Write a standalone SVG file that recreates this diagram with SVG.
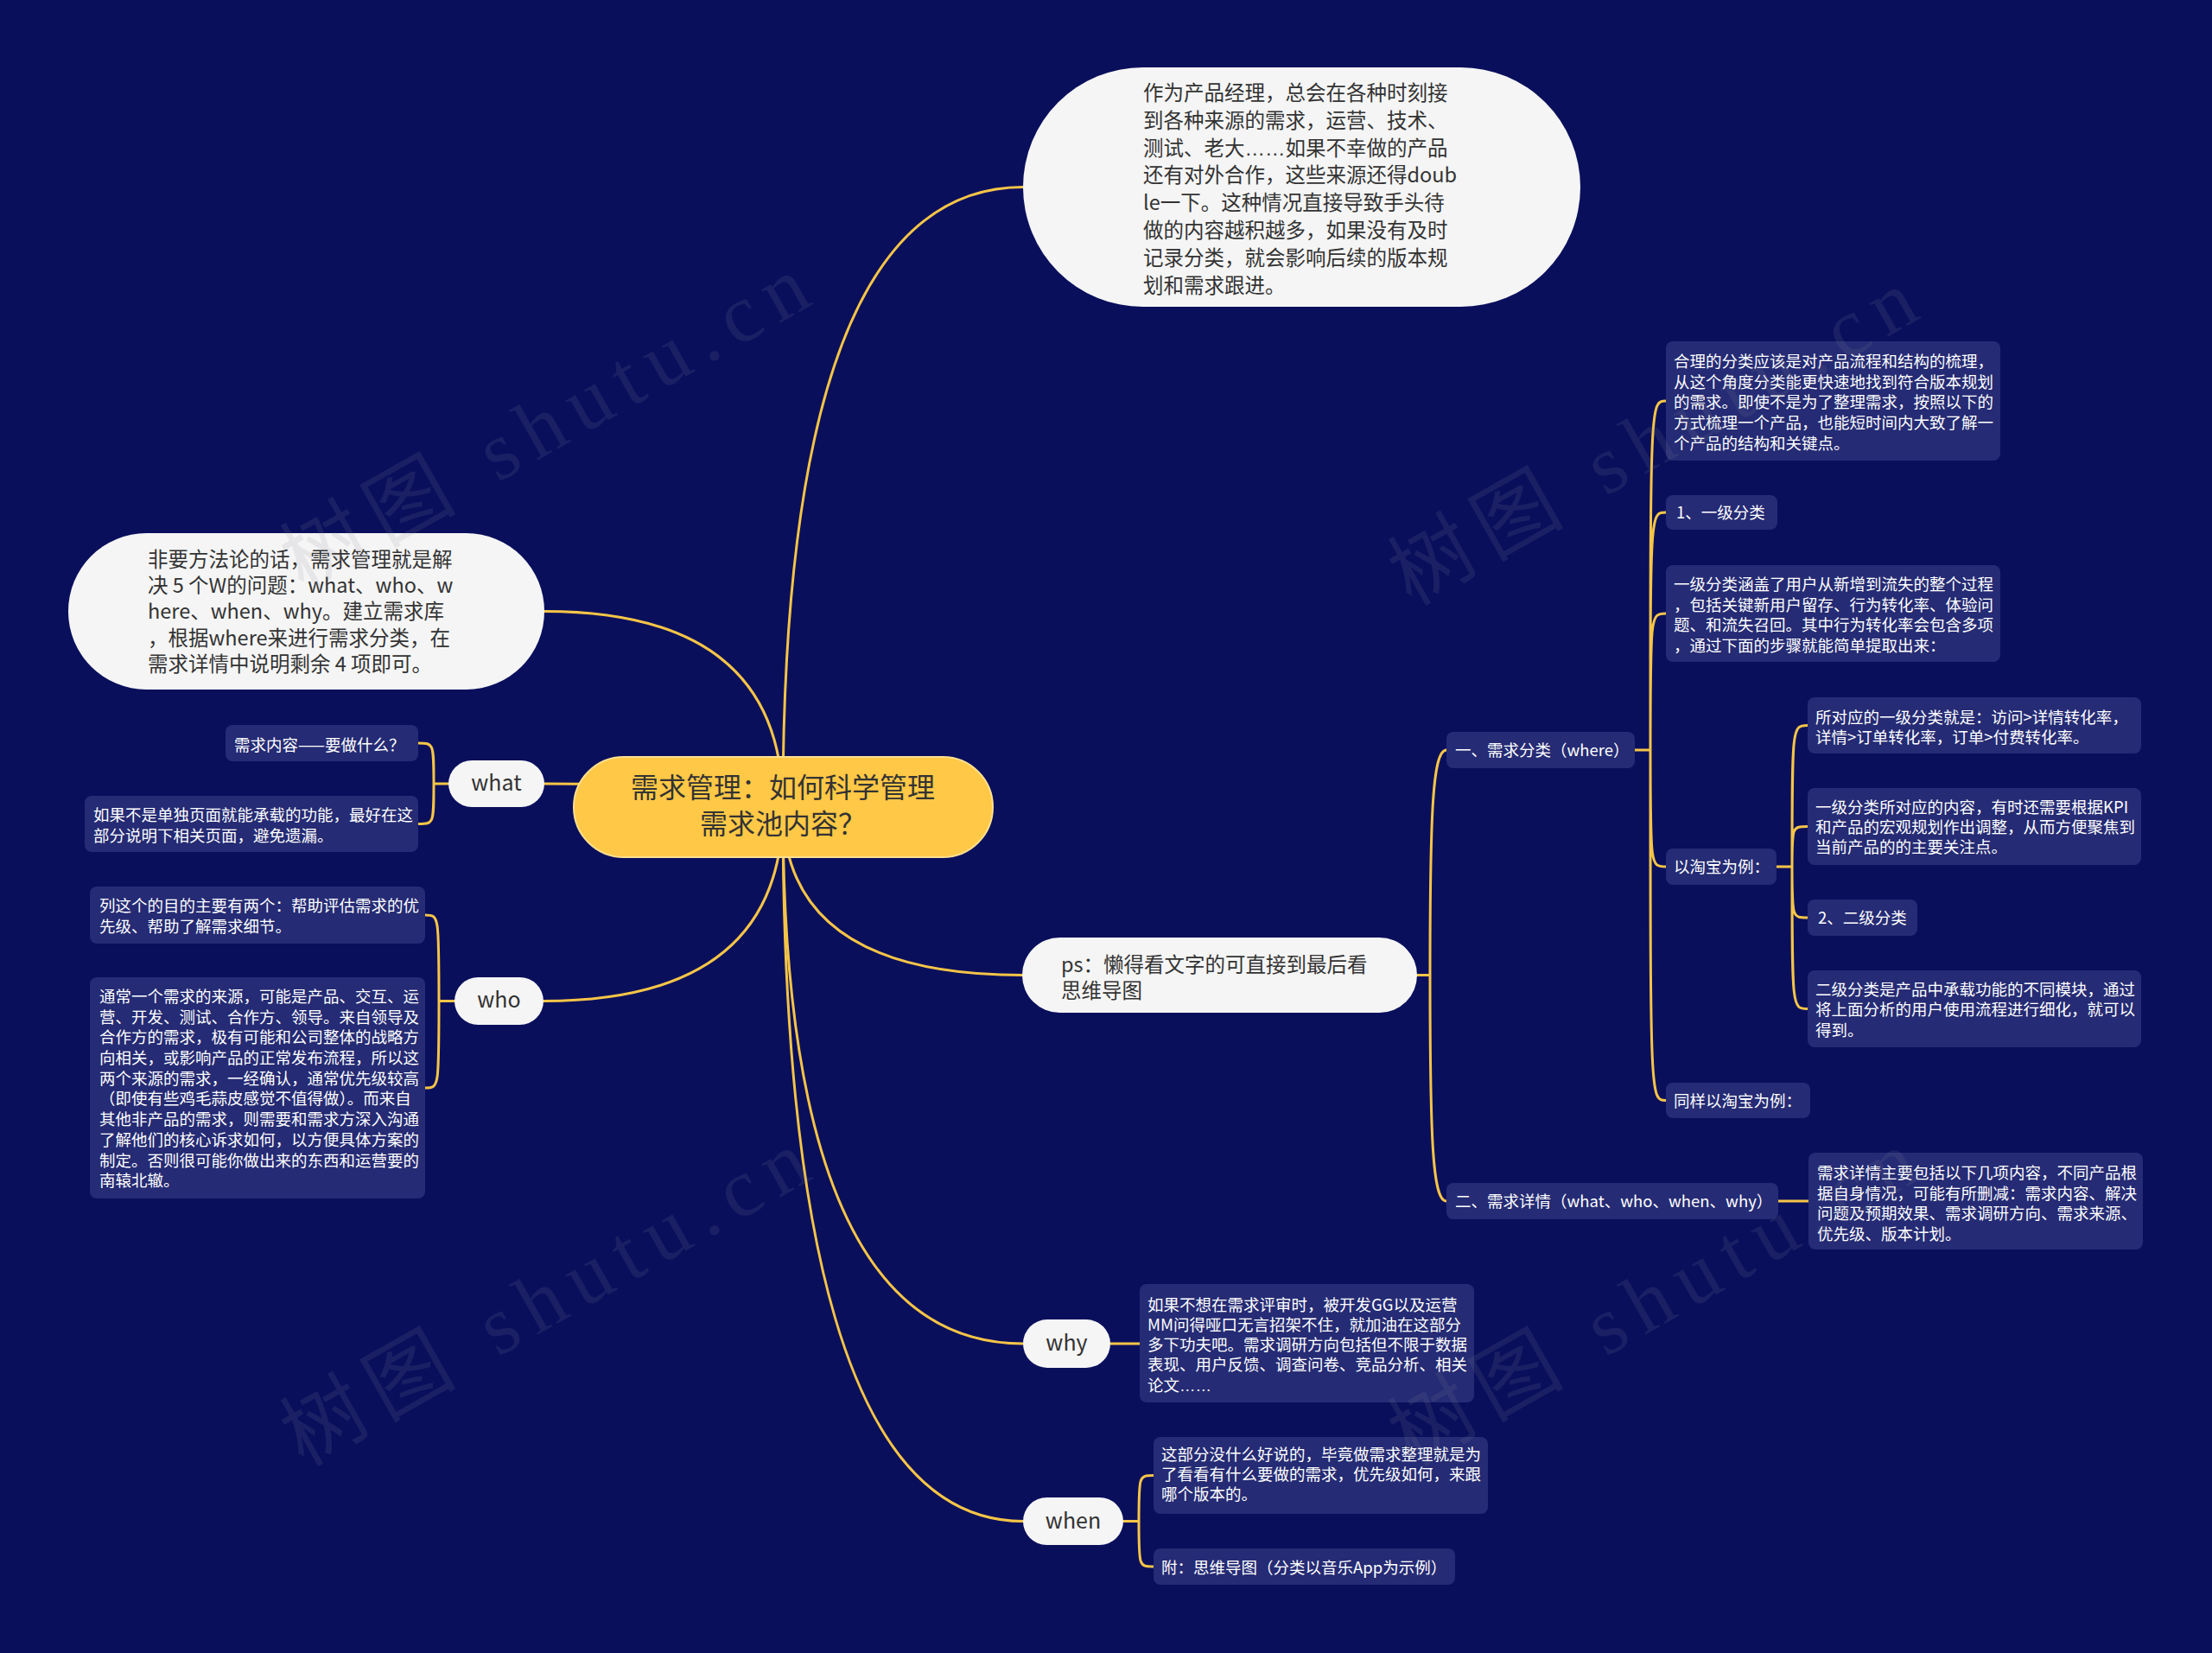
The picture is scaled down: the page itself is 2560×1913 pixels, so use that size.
<svg xmlns="http://www.w3.org/2000/svg" width="2560" height="1913" viewBox="0 0 2560 1913">
<style>
.bg{fill:#0a0f5c}
.conn{fill:none;stroke:#f6c547;stroke-width:3;stroke-linecap:round}
.root{fill:#ffc846;stroke:#ffe08f;stroke-width:2}
.rt{font-family:"Noto Sans CJK SC","Noto Sans",sans-serif;font-size:32px;fill:#333333;text-anchor:middle}
.pill{fill:#f5f5f5}
.pt{font-family:"Noto Sans CJK SC","Noto Sans",sans-serif;font-size:23.5px;fill:#333333}
.wt{font-family:"Noto Sans CJK SC","Noto Sans",sans-serif;font-size:25px;fill:#333333;text-anchor:middle}
.box{fill:#252b74}
.bt{font-family:"Noto Sans CJK SC","Noto Sans",sans-serif;font-size:18.5px;fill:#ffffff}
.el{font-family:"Liberation Sans",sans-serif}
.wm{font-family:"Liberation Serif","Noto Sans CJK SC",serif;font-size:96px;fill:#8a8a9a;opacity:0.13}
</style>
<rect class="bg" x="0" y="0" width="2560" height="1913"/>

<g id="connectors">
  <path class="conn" d="M906 934 Q906 216.5 1184 216.5"/>
  <path class="conn" d="M906 934 Q906 707.5 630 707.5"/>
  <path class="conn" d="M906 934 Q906 907 630 907"/>
  <path class="conn" d="M906 934 Q906 1158.5 629 1158.5"/>
  <path class="conn" d="M906 934 Q906 1128.5 1183 1128.5"/>
  <path class="conn" d="M906 934 Q906 1555 1184 1555"/>
  <path class="conn" d="M906 934 Q906 1760.5 1184 1760.5"/>
  <path class="conn" d="M519 907 L502 907 M502 907 C502 860 502 860 484 860 M502 907 C502 953.5 502 953.5 484 953.5"/>
  <path class="conn" d="M526 1158.5 L508 1158.5 M508 1158.5 C508 1059 508 1059 492 1059 M508 1158.5 C508 1259 508 1259 492 1259"/>
  <path class="conn" d="M1285 1555 L1319 1555"/>
  <path class="conn" d="M1300 1760.5 L1318 1760.5 M1318 1760.5 C1318 1707.5 1318 1707.5 1335 1707.5 M1318 1760.5 C1318 1813 1318 1813 1335 1813"/>
  <path class="conn" d="M1640 1128.5 L1655 1128.5 M1655 1128.5 C1655 940 1658 868 1674 868 M1655 1128.5 C1655 1320 1658 1390 1674 1390"/>
  <path class="conn" d="M1892 868 L1910 868 M1910 868 C1910 464 1910 464 1928 464 M1910 868 C1910 593 1910 593 1928 593 M1910 868 C1910 710 1910 710 1928 710 M1910 868 C1910 1003 1910 1003 1928 1003 M1910 868 C1910 1273.5 1910 1273.5 1928 1273.5"/>
  <path class="conn" d="M2056 1003 L2074 1003 M2074 1003 C2074 839.5 2074 839.5 2092 839.5 M2074 1003 C2074 956.5 2074 956.5 2092 956.5 M2074 1003 C2074 1062 2074 1062 2092 1062 M2074 1003 C2074 1167.5 2074 1167.5 2092 1167.5"/>
  <path class="conn" d="M2058 1390 L2093 1390"/>
</g>

<g id="n-root">
  <rect class="root" x="664" y="876" width="485" height="116" rx="58"/>
  <text class="rt" x="906" y="923">需求管理：如何科学管理</text>
  <text class="rt" x="906" y="965">需求池内容？</text>
</g>

<g id="n-intro">
  <rect class="pill" x="1184" y="78" width="645" height="277" rx="138.5"/>
  <text class="pt" x="1323" y="116">作为产品经理，总会在各种时刻接</text>
  <text class="pt" x="1323" y="148">到各种来源的需求，运营、技术、</text>
  <text class="pt" x="1323" y="180">测试、老大<tspan class="el">……</tspan>如果不幸做的产品</text>
  <text class="pt" x="1323" y="211">还有对外合作，这些来源还得doub</text>
  <text class="pt" x="1323" y="243">le一下。这种情况直接导致手头待</text>
  <text class="pt" x="1323" y="275">做的内容越积越多，如果没有及时</text>
  <text class="pt" x="1323" y="307">记录分类，就会影响后续的版本规</text>
  <text class="pt" x="1323" y="339">划和需求跟进。</text>
</g>

<g id="n-5w">
  <rect class="pill" x="79" y="617" width="551" height="181" rx="90.5"/>
  <text class="pt" x="171" y="656">非要方法论的话，需求管理就是解</text>
  <text class="pt" x="171" y="686">决 5 个W的问题：what、who、w</text>
  <text class="pt" x="171" y="716">here、when、why。建立需求库</text>
  <text class="pt" x="171" y="747">，根据where来进行需求分类，在</text>
  <text class="pt" x="171" y="777">需求详情中说明剩余 4 项即可。</text>
</g>

<g id="n-what">
  <rect class="pill" x="519" y="880" width="111" height="54" rx="27"/>
  <text class="wt" x="574.5" y="915">what</text>
</g>
<g id="n-what-1">
  <rect class="box" x="261" y="839" width="223" height="42" rx="8"/>
  <text class="bt" x="271" y="869">需求内容——要做什么？</text>
</g>
<g id="n-what-2">
  <rect class="box" x="98" y="921" width="386" height="65" rx="8"/>
  <text class="bt" x="108" y="950">如果不是单独页面就能承载的功能，最好在这</text>
  <text class="bt" x="108" y="974">部分说明下相关页面，避免遗漏。</text>
</g>

<g id="n-who">
  <rect class="pill" x="526" y="1131" width="103" height="55" rx="27.5"/>
  <text class="wt" x="577.5" y="1166">who</text>
</g>
<g id="n-who-1">
  <rect class="box" x="104" y="1026" width="388" height="66" rx="8"/>
  <text class="bt" x="115" y="1055">列这个的目的主要有两个：帮助评估需求的优</text>
  <text class="bt" x="115" y="1079">先级、帮助了解需求细节。</text>
</g>
<g id="n-who-2">
  <rect class="box" x="104" y="1131" width="388" height="256" rx="8"/>
  <text class="bt" x="115" y="1160">通常一个需求的来源，可能是产品、交互、运</text>
  <text class="bt" x="115" y="1184">营、开发、测试、合作方、领导。来自领导及</text>
  <text class="bt" x="115" y="1207">合作方的需求，极有可能和公司整体的战略方</text>
  <text class="bt" x="115" y="1231">向相关，或影响产品的正常发布流程，所以这</text>
  <text class="bt" x="115" y="1255">两个来源的需求，一经确认，通常优先级较高</text>
  <text class="bt" x="115" y="1278">（即使有些鸡毛蒜皮感觉不值得做）。而来自</text>
  <text class="bt" x="115" y="1302">其他非产品的需求，则需要和需求方深入沟通</text>
  <text class="bt" x="115" y="1326">了解他们的核心诉求如何，以方便具体方案的</text>
  <text class="bt" x="115" y="1350">制定。否则很可能你做出来的东西和运营要的</text>
  <text class="bt" x="115" y="1373">南辕北辙。</text>
</g>

<g id="n-ps">
  <rect class="pill" x="1183" y="1085" width="457" height="87" rx="43.5"/>
  <text class="pt" x="1228" y="1125">ps：懒得看文字的可直接到最后看</text>
  <text class="pt" x="1228" y="1155">思维导图</text>
</g>

<g id="n-why">
  <rect class="pill" x="1184" y="1527" width="101" height="56" rx="28"/>
  <text class="wt" x="1234.5" y="1563">why</text>
</g>
<g id="n-why-1">
  <rect class="box" x="1319" y="1486" width="387" height="137" rx="8"/>
  <text class="bt" x="1328" y="1517">如果不想在需求评审时，被开发GG以及运营</text>
  <text class="bt" x="1328" y="1540">MM问得哑口无言招架不住，就加油在这部分</text>
  <text class="bt" x="1328" y="1563">多下功夫吧。需求调研方向包括但不限于数据</text>
  <text class="bt" x="1328" y="1586">表现、用户反馈、调查问卷、竞品分析、相关</text>
  <text class="bt" x="1328" y="1610">论文<tspan class="el">……</tspan></text>
</g>

<g id="n-when">
  <rect class="pill" x="1184" y="1733" width="116" height="55" rx="27.5"/>
  <text class="wt" x="1242" y="1769">when</text>
</g>
<g id="n-when-1">
  <rect class="box" x="1335" y="1663" width="387" height="89" rx="8"/>
  <text class="bt" x="1344" y="1690">这部分没什么好说的，毕竟做需求整理就是为</text>
  <text class="bt" x="1344" y="1713">了看看有什么要做的需求，优先级如何，来跟</text>
  <text class="bt" x="1344" y="1736">哪个版本的。</text>
</g>
<g id="n-when-2">
  <rect class="box" x="1335" y="1792" width="349" height="42" rx="8"/>
  <text class="bt" x="1344" y="1821">附：思维导图（分类以音乐App为示例）</text>
</g>

<g id="n-where">
  <rect class="box" x="1674" y="847" width="218" height="42" rx="8"/>
  <text class="bt" x="1684" y="875">一、需求分类（where）</text>
</g>
<g id="n-where-1">
  <rect class="box" x="1928" y="395" width="387" height="138" rx="8"/>
  <text class="bt" x="1937" y="425">合理的分类应该是对产品流程和结构的梳理，</text>
  <text class="bt" x="1937" y="449">从这个角度分类能更快速地找到符合版本规划</text>
  <text class="bt" x="1937" y="472">的需求。即使不是为了整理需求，按照以下的</text>
  <text class="bt" x="1937" y="496">方式梳理一个产品，也能短时间内大致了解一</text>
  <text class="bt" x="1937" y="520">个产品的结构和关键点。</text>
</g>
<g id="n-where-2">
  <rect class="box" x="1928" y="573" width="129" height="40" rx="8"/>
  <text class="bt" x="1940" y="600">1、一级分类</text>
</g>
<g id="n-where-3">
  <rect class="box" x="1928" y="654" width="387" height="112" rx="8"/>
  <text class="bt" x="1937" y="683">一级分类涵盖了用户从新增到流失的整个过程</text>
  <text class="bt" x="1937" y="707">，包括关键新用户留存、行为转化率、体验问</text>
  <text class="bt" x="1937" y="730">题、和流失召回。其中行为转化率会包含多项</text>
  <text class="bt" x="1937" y="754">，通过下面的步骤就能简单提取出来：</text>
</g>
<g id="n-taobao">
  <rect class="box" x="1928" y="982" width="128" height="42" rx="8"/>
  <text class="bt" x="1937" y="1010">以淘宝为例：</text>
</g>
<g id="n-taobao-1">
  <rect class="box" x="2092" y="807" width="386" height="65" rx="8"/>
  <text class="bt" x="2101" y="837">所对应的一级分类就是：访问&gt;详情转化率，</text>
  <text class="bt" x="2101" y="860">详情&gt;订单转化率，订单&gt;付费转化率。</text>
</g>
<g id="n-taobao-2">
  <rect class="box" x="2092" y="912" width="386" height="89" rx="8"/>
  <text class="bt" x="2101" y="941">一级分类所对应的内容，有时还需要根据KPI</text>
  <text class="bt" x="2101" y="964">和产品的宏观规划作出调整，从而方便聚焦到</text>
  <text class="bt" x="2101" y="987">当前产品的的主要关注点。</text>
</g>
<g id="n-taobao-3">
  <rect class="box" x="2092" y="1041" width="127" height="42" rx="8"/>
  <text class="bt" x="2104" y="1069">2、二级分类</text>
</g>
<g id="n-taobao-4">
  <rect class="box" x="2092" y="1123" width="386" height="89" rx="8"/>
  <text class="bt" x="2101" y="1152">二级分类是产品中承载功能的不同模块，通过</text>
  <text class="bt" x="2101" y="1175">将上面分析的用户使用流程进行细化，就可以</text>
  <text class="bt" x="2101" y="1199">得到。</text>
</g>
<g id="n-where-5">
  <rect class="box" x="1928" y="1253" width="167" height="41" rx="8"/>
  <text class="bt" x="1937" y="1281">同样以淘宝为例：</text>
</g>

<g id="n-detail">
  <rect class="box" x="1674" y="1369" width="384" height="42" rx="8"/>
  <text class="bt" x="1684" y="1397">二、需求详情（what、who、when、why）</text>
</g>
<g id="n-detail-1">
  <rect class="box" x="2093" y="1334" width="387" height="112" rx="8"/>
  <text class="bt" x="2103" y="1364">需求详情主要包括以下几项内容，不同产品根</text>
  <text class="bt" x="2103" y="1388">据自身情况，可能有所删减：需求内容、解决</text>
  <text class="bt" x="2103" y="1411">问题及预期效果、需求调研方向、需求来源、</text>
  <text class="bt" x="2103" y="1435">优先级、版本计划。</text>
</g>

<g id="watermarks">
  <text class="wm" transform="translate(351 686) rotate(-29.5)" textLength="680" lengthAdjust="spacing">树图 shutu.cn</text>
  <text class="wm" transform="translate(351 1698) rotate(-29.5)" textLength="680" lengthAdjust="spacing">树图 shutu.cn</text>
  <text class="wm" transform="translate(1633 702) rotate(-29.5)" textLength="680" lengthAdjust="spacing">树图 shutu.cn</text>
  <text class="wm" transform="translate(1633 1698) rotate(-29.5)" textLength="680" lengthAdjust="spacing">树图 shutu.cn</text>
</g>
</svg>
